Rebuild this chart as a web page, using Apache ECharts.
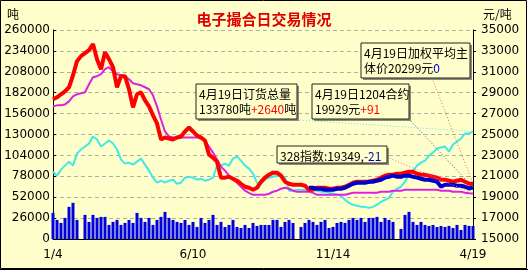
<!DOCTYPE html>
<html><head><meta charset="utf-8">
<script src="https://cdn.jsdelivr.net/npm/echarts@6/dist/echarts.min.js"></script>
<style>html,body{margin:0;padding:0;background:#fff;} #c{width:528px;height:272px;}</style>
</head><body><div id="c"></div>
<script>
// x-axis tick labels and their category positions
const tickLabels = ['1/4', '6/10', '11/14', '4/19'];
const tickIndex = [0, 35, 70, 105];
// right-axis tick values (元/吨)
const priceTicks = [15000, 17000, 19000, 21000, 23000, 25000, 27000, 29000, 31000, 33000, 35000];

// daily volume (吨, left axis) - bars
const volume = [32500,23750,20000,26250,40000,45000,23750,0,30000,21250,30000,26250,27500,27500,17500,21250,23750,17500,20000,23750,
  20000,32500,26250,21250,26250,17500,23750,27500,33750,26250,23750,21250,20000,23750,17500,21250,15000,26250,20000,23750,
  30000,17500,21250,15000,17500,23750,15000,13750,17500,13750,20000,16250,17500,17500,17500,23750,23750,15000,21250,23750,
  20000,0,15000,20000,23750,21250,17500,21250,23750,13750,15000,20000,21250,20000,23750,26250,23750,26250,21250,26250,
  26250,27500,21250,26250,23750,21250,0,12500,30000,33750,21250,17500,21250,17500,16250,17500,15000,16250,15000,16250,
  13750,17500,11250,17500,16250,16250];

// 订货总量 (吨, left axis)
const orders = [83750,78750,86250,91250,96250,91250,106250,111250,115000,118750,127500,123750,115000,118750,122500,118750,111250,98750,93750,95000,
  92500,96250,100000,92500,85000,76250,70000,72500,70000,72500,73750,68750,70000,76250,77500,76250,73750,75000,72500,73750,
  76250,91250,91250,93750,91250,100000,102500,97500,91250,87500,81250,70000,68750,73750,76250,77500,78750,80000,76250,60000,
  60000,61250,61250,61250,60000,61250,60000,58750,58750,57500,56250,55000,53750,48750,45000,42500,41250,40000,40000,38750,
  40000,42500,46250,48750,51250,58750,62500,65000,71250,81250,85000,91250,95000,97500,103750,107500,112500,113750,115000,108750,
  117500,121250,125000,131250,131140,133780];

// 328指数 (元/吨, right axis)
const index328 = [27690,27790,27790,27880,28170,28650,28850,28940,29040,29810,30480,30580,30770,31250,31440,31060,30770,30670,30580,30290,
  29900,29810,29710,29520,29330,28750,27690,26440,25290,24810,24710,24710,24710,24710,24710,24710,24710,24620,24420,23850,
  23270,22600,21920,21540,21060,20670,20380,20000,19620,19420,19230,19230,19230,19230,19330,19520,19620,19810,19900,19810,
  19620,19520,19520,19520,19520,19420,19230,19230,19230,19230,19230,19230,19230,19230,19330,19420,19420,19420,19420,19420,
  19420,19420,19520,19520,19520,19620,19620,19620,19710,19710,19710,19710,19710,19710,19710,19710,19710,19620,19620,19620,
  19520,19520,19520,19420,19370,19349];

// 加权平均主体价 (元/吨, right axis)
const avgPrice = [28370,28560,28850,29130,29520,30670,32020,32500,32790,33080,33650,32210,31250,32880,32210,31440,29520,30580,30580,29330,
  27600,28850,29040,28270,27690,26830,26060,24520,24710,24620,24520,24710,24810,25290,25670,25290,24900,24710,24420,23080,
  22790,22400,20870,20870,20960,20770,20580,20290,20000,19900,19710,19900,20480,20870,21150,21350,21350,21060,20480,20290,
  20190,20190,20190,20100,19710,19710,19900,19900,19900,19810,19810,19900,19900,20000,20190,20380,20480,20480,20480,20480,
  20580,20670,20870,21060,21150,21150,21250,21250,21350,21440,21440,21250,21150,21150,21060,20960,20870,20670,20670,20580,
  20480,20580,20670,20480,20299,20299];

// 1204合约 (元/吨, right axis)
const contract1204 = [null,null,null,null,null,null,null,null,null,null,null,null,null,null,null,null,null,null,null,null,
  null,null,null,null,null,null,null,null,null,null,null,null,null,null,null,null,null,null,null,null,
  null,null,null,null,null,null,null,null,null,null,null,null,null,null,null,null,null,null,null,null,
  null,null,null,null,19900,19900,19810,19810,19710,19710,19710,19810,19810,19900,20100,20290,20380,20380,20380,20480,
  20480,20580,20670,20870,20960,21060,20960,20960,21060,21060,20960,20870,20770,20670,20670,20580,20480,20000,20190,20190,
  20190,20100,20100,20000,19838,19929];

const BG = '#FFFFCC';
const CJK = '"Noto Sans CJK SC", sans-serif';
const categories = volume.map((_, i) => String(i));
const last = volume.length - 1;

const chart = echarts.init(document.getElementById('c'), null, {renderer: 'canvas'});

const option = {
  animation: false,
  backgroundColor: '#ffffff',
  title: {
    text: '电子撮合日交易情况', left: 'center', top: 7,
    textStyle: {color: '#E00000', fontSize: 15, fontWeight: 'bold', fontFamily: CJK}
  },
  grid: {left: 53, right: 55, top: 30, bottom: 33},
  xAxis: {
    type: 'category', data: categories, boundaryGap: false,
    axisLine: {lineStyle: {color: '#000', width: 1}},
    axisTick: {show: false},
    axisLabel: {
      color: '#000', fontSize: 12, fontFamily: 'DejaVu Sans', margin: 10,
      interval: (idx) => tickIndex.indexOf(idx) >= 0,
      formatter: (v, idx) => { const k = tickIndex.indexOf(Number(v)); return k >= 0 ? tickLabels[k] : ''; }
    },
    splitLine: {show: false}
  },
  yAxis: [
    {
      type: 'value', min: 0, max: 260000, interval: 26000, position: 'left',
      axisLine: {show: true, lineStyle: {color: '#000'}},
      axisTick: {show: true, inside: true, length: 3, lineStyle: {color: '#000'}},
      axisLabel: {color: '#000', fontSize: 12, fontFamily: 'DejaVu Sans', margin: 3,
        formatter: (v) => String(v)},
      splitLine: {show: true, lineStyle: {color: '#B0B0A0', type: [4, 3], width: 1}}
    },
    {
      type: 'value', min: 15000, max: 35000, interval: 1000, position: 'right',
      axisLine: {show: true, lineStyle: {color: '#000'}},
      axisTick: {show: true, length: 3, lineStyle: {color: '#000'}, customValues: priceTicks},
      axisLabel: {color: '#000', fontSize: 12, fontFamily: 'DejaVu Sans', margin: 8, customValues: priceTicks,
        formatter: (v) => (priceTicks.indexOf(v) >= 0 ? String(v) : '')},
      splitLine: {show: false}
    }
  ],
  series: [
    {name: '成交量', type: 'bar', yAxisIndex: 0, data: volume, barWidth: 3,
      itemStyle: {color: '#0000E0'}, z: 2},
    {name: '订货总量', type: 'line', yAxisIndex: 0, data: orders, showSymbol: false,
      lineStyle: {color: '#40E8E8', width: 2}, z: 3},
    {name: '328指数', type: 'line', yAxisIndex: 1, data: index328, showSymbol: false,
      lineStyle: {color: '#E020E0', width: 2}, z: 4},
    {name: '加权平均主体价', type: 'line', yAxisIndex: 1, data: avgPrice, showSymbol: false,
      lineStyle: {color: '#FF0000', width: 4}, z: 5},
    {name: '1204合约', type: 'line', yAxisIndex: 1, data: contract1204, showSymbol: false,
      lineStyle: {color: '#0000CC', width: 4}, z: 6}
  ]
};
chart.setOption(option);

function box(x, y, w, h, text, rich) {
  return {
    type: 'group', z: 100, children: [
      {type: 'rect', shape: {x: x + 2, y: y + 2, width: w, height: h}, style: {fill: '#8C8C78'}, z: 100},
      {type: 'rect', shape: {x: x, y: y, width: w, height: h}, style: {fill: BG, stroke: '#222', lineWidth: 1}, z: 101},
      {type: 'text', x: x + 3, y: y + 3, z: 102, style: {text: text, rich: rich, fontSize: 12, fontFamily: CJK, fill: '#000'}}
    ]
  };
}
const rich = {
  k: {fill: '#000', fontSize: 12, fontFamily: CJK, lineHeight: 15},
  r: {fill: '#FF0000', fontSize: 12, fontFamily: CJK, lineHeight: 15},
  b: {fill: '#0000CC', fontSize: 12, fontFamily: CJK, lineHeight: 15}
};
function leader(from, to, color) {
  return {type: 'line', z: 90, shape: {x1: from[0], y1: from[1], x2: to[0], y2: to[1]},
    style: {stroke: color, lineWidth: 1, lineDash: [1, 2]}};
}
const pOrders = chart.convertToPixel({seriesIndex: 1}, [last, orders[last]]);
const pIndex = chart.convertToPixel({seriesIndex: 2}, [last, index328[last]]);
const pAvg = chart.convertToPixel({seriesIndex: 3}, [last, avgPrice[last]]);
const pCon = chart.convertToPixel({seriesIndex: 4}, [last, contract1204[last]]);

chart.setOption({
  graphic: [
    {type: 'rect', z: -10, silent: true, shape: {x: 0.5, y: 0.5, width: 526, height: 268},
      style: {fill: BG, stroke: '#000', lineWidth: 1}},
    {type: 'line', z: -9, silent: true, shape: {x1: 0, y1: 269.5, x2: 528, y2: 269.5}, style: {stroke: '#000', lineWidth: 1}},
    {type: 'text', x: 7, y: 8, style: {text: '吨', fontSize: 12, fontFamily: CJK, fill: '#000'}},
    {type: 'text', x: 483, y: 8, style: {text: '元/吨', fontSize: 12, fontFamily: CJK, fill: '#000'}},
    leader([297, 120], pOrders, '#70E0E0'),
    leader([409, 119], pCon, '#505088'),
    leader([432, 78], pAvg, '#E07050'),
    leader([387, 157], pIndex, '#E070C0'),
    box(196, 84, 101, 35, '{k|4月19日订货总量}\n{k|133780吨}{r|+2640}{k|吨}', rich),
    box(312, 84, 97, 35, '{k|4月19日1204合约}\n{k|19929元}{r|+91}', rich),
    box(361, 43, 109, 35, '{k|4月19日加权平均主}\n{k|体价20299元}{b|0}', rich),
    box(277, 146, 110, 17, '{k|328指数:19349,}{b|-21}', rich)
  ]
});
</script>
</body></html>
